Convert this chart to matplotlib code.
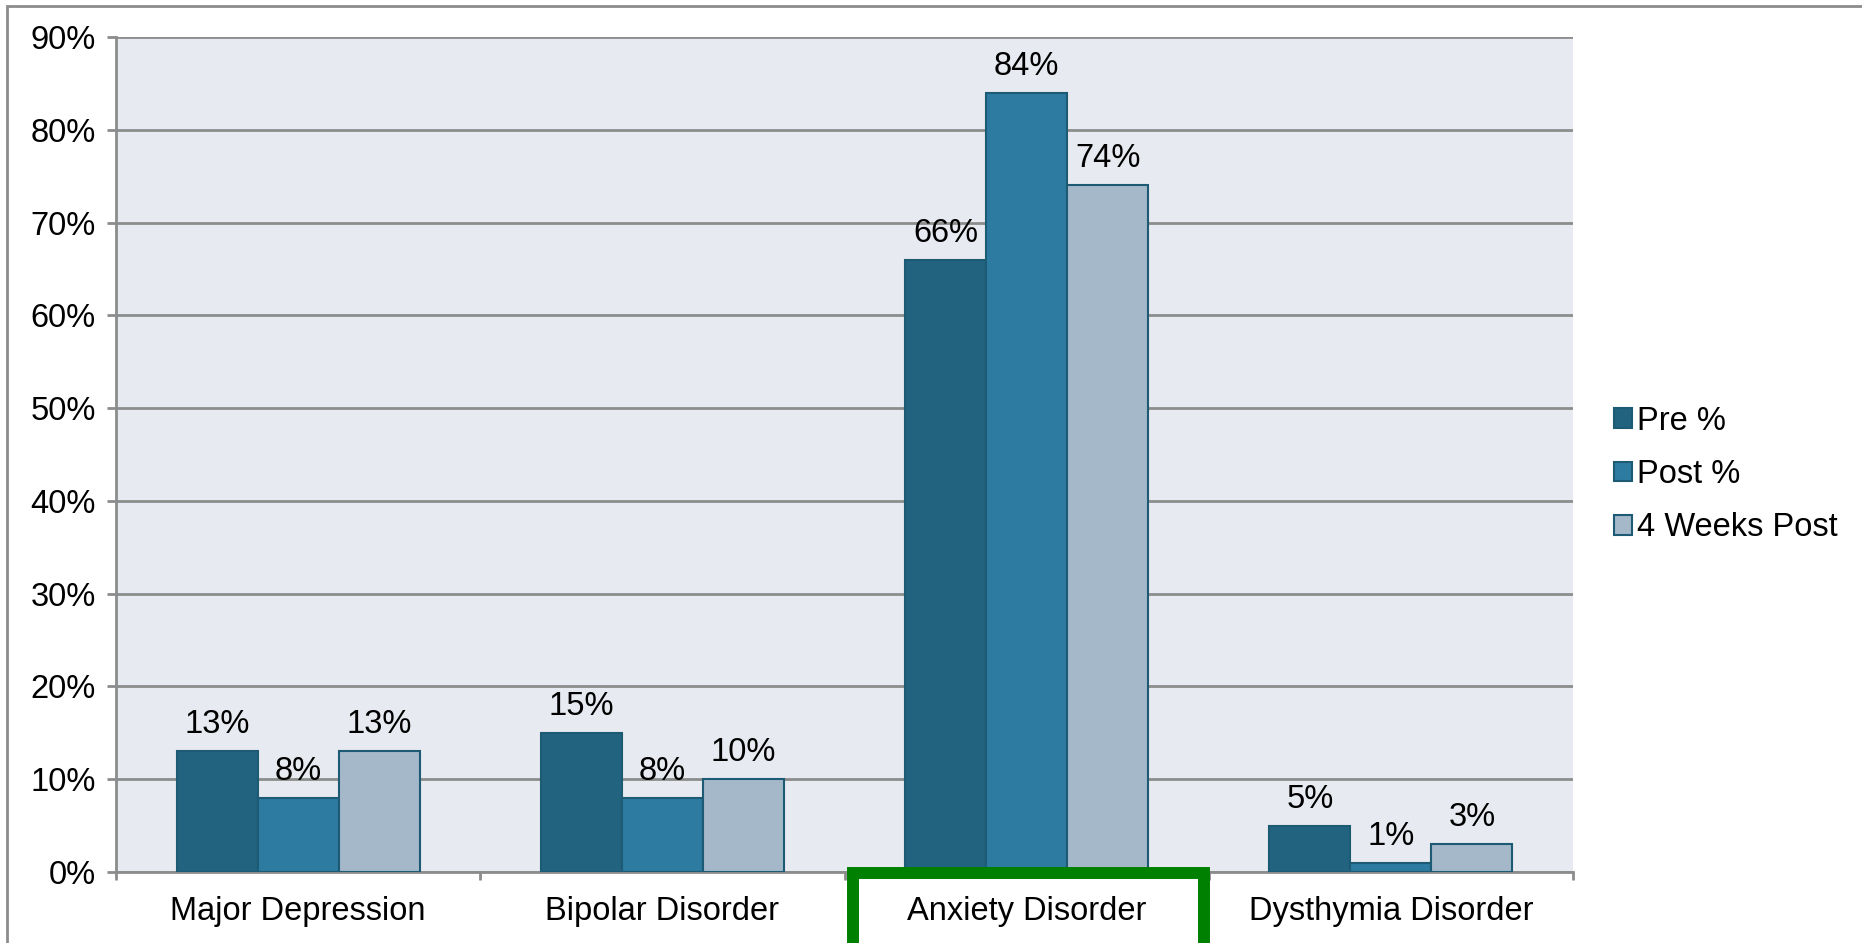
import matplotlib
matplotlib.use("Agg")
import matplotlib.pyplot as plt
import numpy as np
from matplotlib.patches import Rectangle
from matplotlib.ticker import FixedLocator

plt.rcParams['font.family'] = ['Liberation Sans', 'DejaVu Sans']

categories = ["Major Depression", "Bipolar Disorder", "Anxiety Disorder", "Dysthymia Disorder"]
series_names = ["Pre %", "Post %", "4 Weeks Post"]
pre = [13, 15, 66, 5]
post = [8, 8, 84, 1]
weeks4 = [13, 10, 74, 3]
y_ticks = [0, 10, 20, 30, 40, 50, 60, 70, 80, 90]
highlight = "Anxiety Disorder"

colors = ["#22647f", "#2d7ba0", "#a4b8c9"]
edge = "#1d5a74"
grid_gray = "#8c8c8c"
FS = 23.5

W, H = 1862, 943
fig = plt.figure(figsize=(W / 100, H / 100), dpi=100)
ax = fig.add_axes([116 / W, 1 - 872 / H, (1573 - 116) / W, (872 - 37) / H])
ax.set_facecolor("#e7eaf0")

x = np.arange(len(categories))
bw = 0.2225
for i, (name, vals) in enumerate(zip(series_names, [pre, post, weeks4])):
    bars = ax.bar(x + (i - 1) * bw, vals, width=bw, color=colors[i],
                  edgecolor=edge, linewidth=1.5, label=name, zorder=3)
    for b, v in zip(bars, vals):
        ax.annotate(f"{v}%", (b.get_x() + b.get_width() / 2, v),
                    xytext=(0, 8), textcoords="offset points",
                    ha="center", va="bottom", fontsize=FS, zorder=4)

ax.set_xlim(-0.5, len(categories) - 0.5)
ax.set_ylim(0, 90)
ax.set_yticks(y_ticks)
ax.set_yticklabels([f"{t}%" for t in y_ticks], fontsize=FS)
ax.yaxis.grid(True, color=grid_gray, linewidth=2, zorder=1)
ax.set_axisbelow(True)

ax.set_xticks(x)
ax.set_xticklabels(categories, fontsize=FS)
ax.xaxis.set_minor_locator(FixedLocator(np.arange(len(categories) + 1) - 0.5))
ax.tick_params(axis="x", which="major", length=0, pad=17)
ax.tick_params(axis="x", which="minor", length=6, width=2, color=grid_gray, direction="out")
ax.tick_params(axis="y", length=6.5, width=2, color=grid_gray, pad=8)

for s in ["top", "right"]:
    ax.spines[s].set_visible(False)
for s in ["left", "bottom"]:
    ax.spines[s].set_color(grid_gray)
    ax.spines[s].set_linewidth(2)

leg = ax.legend(loc="center left", bbox_to_anchor=(1.0, 0.476), frameon=False,
                fontsize=FS, handlelength=0.55, handleheight=0.55,
                handletextpad=0.15, labelspacing=0.68, borderaxespad=0.85)

# outer chart frame
fig.add_artist(Rectangle((7 / W, -0.1), 1.2, 1 - 6 / H + 0.1,
                         transform=fig.transFigure, fill=False,
                         edgecolor=grid_gray, linewidth=2, clip_on=False))

# highlight box around one category label
fig.add_artist(Rectangle((853 / W, -0.1), (1204 - 853) / W, 0.1 + 1 - 873 / H,
                         transform=fig.transFigure, fill=False,
                         edgecolor="#008000", linewidth=8.6, clip_on=False,
                         zorder=5))

fig.savefig("out.png", dpi=100)
